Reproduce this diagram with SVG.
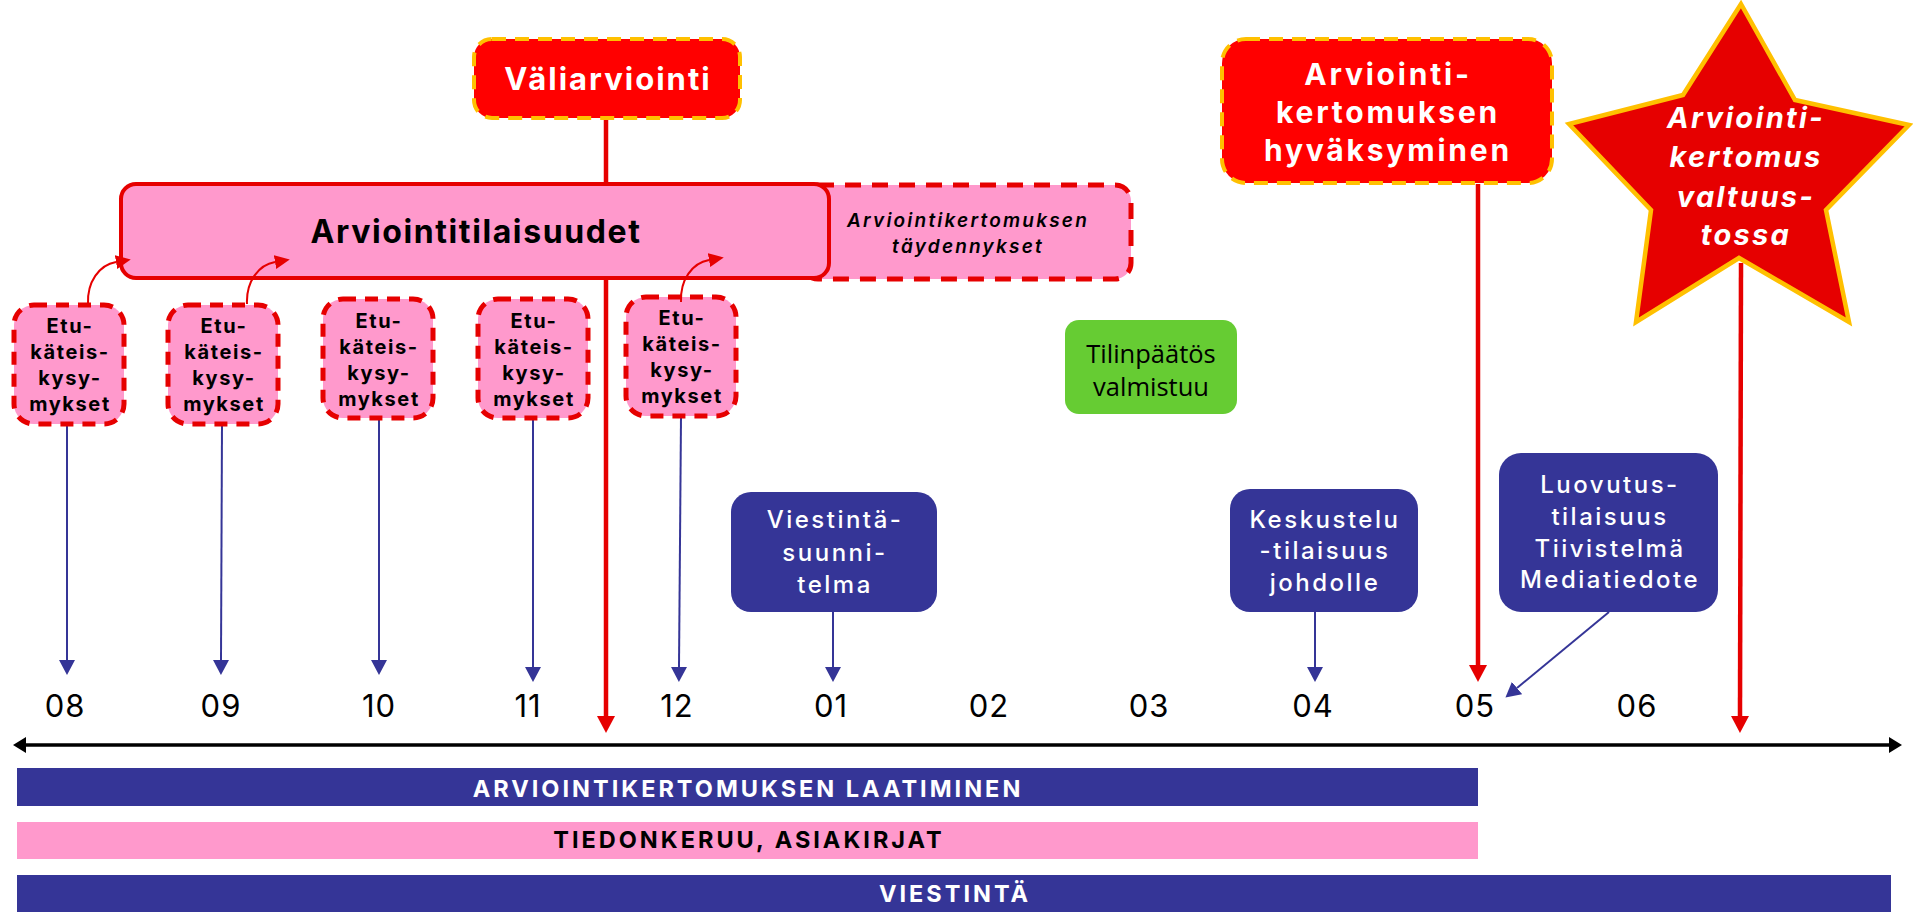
<svg xmlns="http://www.w3.org/2000/svg" width="1913" height="912" viewBox="0 0 1913 912">
<style>
  .t { font-family: Inter, "Noto Sans", sans-serif; }
  .etu { fill: #FF99CC; stroke: #E60000; stroke-width: 5; stroke-dasharray: 13 9; }
  .etut { font-family: Inter, "Noto Sans", sans-serif; font-weight: 700; font-size: 20px; letter-spacing: 1.6px; fill: #000; text-anchor: middle; }
  .redbox { fill: #FF0000; stroke: #FFC000; stroke-width: 4; stroke-dasharray: 14 9; }
  .whiteb { font-family: Inter, "Noto Sans", sans-serif; font-weight: 700; fill: #fff; text-anchor: middle; }
  .bar { font-family: Inter, "Noto Sans", sans-serif; font-weight: 700; font-size: 23.5px; letter-spacing: 3px; text-anchor: middle; }
  .bluebox { fill: #353597; }
  .bluet { font-family: Inter, "Noto Sans", sans-serif; font-weight: 500; font-size: 24px; letter-spacing: 2.5px; fill: #fff; text-anchor: middle; }
  .month { font-family: Inter, "Noto Sans", sans-serif; font-weight: 400; font-size: 31px; letter-spacing: 1px; fill: #000; text-anchor: middle; }
  .bl { stroke: #353597; stroke-width: 2; fill: none; }
  .rl { stroke: #E60000; stroke-width: 4.5; fill: none; }
  .rc { stroke: #E60000; stroke-width: 2; fill: none; }
</style>
<defs>
  <marker id="hb" markerUnits="userSpaceOnUse" markerWidth="16" markerHeight="16" viewBox="0 0 16 16" refX="0" refY="8" orient="auto">
    <path d="M0,0 L15,8 L0,16 z" fill="#353597"/>
  </marker>
  <marker id="hr" markerUnits="userSpaceOnUse" markerWidth="18" markerHeight="18" viewBox="0 0 18 18" refX="0" refY="9" orient="auto">
    <path d="M0,0 L17,9 L0,18 z" fill="#E60000"/>
  </marker>
  <marker id="hrs" markerUnits="userSpaceOnUse" markerWidth="15" markerHeight="14" viewBox="0 0 15 14" refX="0" refY="7" orient="auto">
    <path d="M0,0 L15,7 L0,14 z" fill="#E60000"/>
  </marker>
  <marker id="hk" markerUnits="userSpaceOnUse" markerWidth="14" markerHeight="16" viewBox="0 0 14 16" refX="0" refY="8" orient="auto-start-reverse">
    <path d="M0,0 L13,8 L0,16 z" fill="#000"/>
  </marker>
</defs>

<!-- connectors -->
<g id="connectors">
  <line class="rl" x1="606" y1="118" x2="606" y2="716" marker-end="url(#hr)"/>
  <line class="rl" x1="1478" y1="184" x2="1478" y2="665" marker-end="url(#hr)"/>
  <line class="bl" x1="67" y1="424" x2="67" y2="660" marker-end="url(#hb)"/>
  <line class="bl" x1="222" y1="424" x2="221" y2="660" marker-end="url(#hb)"/>
  <line class="bl" x1="379" y1="418" x2="379" y2="660" marker-end="url(#hb)"/>
  <line class="bl" x1="533" y1="419" x2="533" y2="667" marker-end="url(#hb)"/>
  <line class="bl" x1="681" y1="417" x2="679" y2="667" marker-end="url(#hb)"/>
  <line class="bl" x1="833" y1="612" x2="833" y2="667" marker-end="url(#hb)"/>
  <line class="bl" x1="1315" y1="612" x2="1315" y2="667" marker-end="url(#hb)"/>
  <line class="bl" x1="1609" y1="612" x2="1517" y2="688" marker-end="url(#hb)"/>
  <line x1="26" y1="745" x2="1889" y2="745" stroke="#000" stroke-width="3.5" marker-start="url(#hk)" marker-end="url(#hk)"/>
</g>

<!-- bars -->
<g id="bar-laatiminen">
  <rect x="17" y="768" width="1461" height="38" fill="#353597"/>
  <text x="748" y="797" class="bar" fill="#fff">ARVIOINTIKERTOMUKSEN LAATIMINEN</text>
</g>
<g id="bar-tiedonkeruu">
  <rect x="17" y="822" width="1461" height="37" fill="#FF99CC"/>
  <text x="749" y="848" class="bar" fill="#000">TIEDONKERUU, ASIAKIRJAT</text>
</g>
<g id="bar-viestinta">
  <rect x="17" y="875" width="1874" height="37" fill="#353597"/>
  <text x="955" y="902" class="bar" fill="#fff">VIESTINTÄ</text>
</g>

<!-- months -->
<g id="months">
  <text class="month" x="65" y="717">08</text>
  <text class="month" x="221" y="717">09</text>
  <text class="month" x="379" y="717">10</text>
  <text class="month" x="528" y="717">11</text>
  <text class="month" x="677" y="717">12</text>
  <text class="month" x="831" y="717">01</text>
  <text class="month" x="989" y="717">02</text>
  <text class="month" x="1149" y="717">03</text>
  <text class="month" x="1313" y="717">04</text>
  <text class="month" x="1475" y="717">05</text>
  <text class="month" x="1637" y="717">06</text>
</g>

<!-- täydennykset -->
<g id="taydennykset">
  <rect x="802" y="185" width="329" height="94" rx="16" fill="#FF99CC" stroke="#E60000" stroke-width="5" stroke-dasharray="16 11"/>
  <text x="968" y="227" class="t" font-style="italic" font-weight="600" font-size="19" letter-spacing="2.2" text-anchor="middle">Arviointikertomuksen</text>
  <text x="968" y="253" class="t" font-style="italic" font-weight="600" font-size="19" letter-spacing="2.2" text-anchor="middle">täydennykset</text>
</g>

<!-- Arviointitilaisuudet -->
<g id="arviointitilaisuudet">
  <rect x="121" y="184" width="708" height="94" rx="15" fill="#FF99CC" stroke="#E60000" stroke-width="4"/>
  <text x="476" y="243" class="t" font-weight="700" font-size="32" letter-spacing="1.6" text-anchor="middle">Arviointitilaisuudet</text>
</g>

<!-- Väliarviointi -->
<g id="valiarviointi">
  <rect x="474" y="39" width="266" height="79" rx="18" class="redbox"/>
  <text x="608" y="90" class="whiteb" font-size="31" letter-spacing="2">Väliarviointi</text>
</g>

<!-- Etukäteiskysymykset -->
<g id="etu1">
  <rect x="14" y="305" width="110" height="119" rx="20" class="etu"/>
  <text class="etut"><tspan x="70" y="333">Etu-</tspan><tspan x="70" y="359">käteis-</tspan><tspan x="70" y="385">kysy-</tspan><tspan x="70" y="411">mykset</tspan></text>
</g>
<g id="etu2">
  <rect x="168" y="305" width="110" height="119" rx="20" class="etu"/>
  <text class="etut"><tspan x="224" y="333">Etu-</tspan><tspan x="224" y="359">käteis-</tspan><tspan x="224" y="385">kysy-</tspan><tspan x="224" y="411">mykset</tspan></text>
</g>
<g id="etu3">
  <rect x="323" y="299" width="110" height="119" rx="20" class="etu"/>
  <text class="etut"><tspan x="379" y="328">Etu-</tspan><tspan x="379" y="354">käteis-</tspan><tspan x="379" y="380">kysy-</tspan><tspan x="379" y="406">mykset</tspan></text>
</g>
<g id="etu4">
  <rect x="478" y="299" width="110" height="119" rx="20" class="etu"/>
  <text class="etut"><tspan x="534" y="328">Etu-</tspan><tspan x="534" y="354">käteis-</tspan><tspan x="534" y="380">kysy-</tspan><tspan x="534" y="406">mykset</tspan></text>
</g>
<g id="etu5">
  <rect x="626" y="297" width="110" height="119" rx="20" class="etu"/>
  <text class="etut"><tspan x="682" y="325">Etu-</tspan><tspan x="682" y="351">käteis-</tspan><tspan x="682" y="377">kysy-</tspan><tspan x="682" y="403">mykset</tspan></text>
</g>

<!-- curved arrows to Arviointitilaisuudet -->
<g id="curved-connectors">
  <path class="rc" d="M88,304 C87,282 99,265 116,262" marker-end="url(#hrs)"/>
  <path class="rc" d="M247,304 C246,282 258,265 275,262" marker-end="url(#hrs)"/>
  <path class="rc" d="M681,302 C680,280 692,263 709,260" marker-end="url(#hrs)"/>
</g>

<!-- Tilinpäätös -->
<g id="tilinpaatos">
  <rect x="1065" y="320" width="172" height="94" rx="14" fill="#66CC33"/>
  <text x="1151" y="363" font-family="'Open Sans', 'Noto Sans', sans-serif" font-size="25.5" fill="#000" text-anchor="middle">Tilinpäätös</text>
  <text x="1151" y="396" font-family="'Open Sans', 'Noto Sans', sans-serif" font-size="25.5" fill="#000" text-anchor="middle">valmistuu</text>
</g>

<!-- blue boxes -->
<g id="viestintasuunnitelma">
  <rect x="731" y="492" width="206" height="120" rx="20" class="bluebox"/>
  <text class="bluet"><tspan x="835" y="528">Viestintä-</tspan><tspan x="835" y="561">suunni-</tspan><tspan x="835" y="593">telma</tspan></text>
</g>
<g id="keskustelu">
  <rect x="1230" y="489" width="188" height="123" rx="20" class="bluebox"/>
  <text class="bluet"><tspan x="1325" y="528">Keskustelu</tspan><tspan x="1325" y="559">-tilaisuus</tspan><tspan x="1325" y="591">johdolle</tspan></text>
</g>
<g id="luovutus">
  <rect x="1499" y="453" width="219" height="159" rx="22" class="bluebox"/>
  <text class="bluet"><tspan x="1610" y="493">Luovutus-</tspan><tspan x="1610" y="525">tilaisuus</tspan><tspan x="1610" y="557">Tiivistelmä</tspan><tspan x="1610" y="588">Mediatiedote</tspan></text>
</g>

<!-- hyväksyminen -->
<g id="hyvaksyminen">
  <rect x="1222" y="39" width="330" height="144" rx="24" class="redbox"/>
  <text class="whiteb" font-size="30" letter-spacing="2.8"><tspan x="1388" y="85">Arviointi-</tspan><tspan x="1388" y="123">kertomuksen</tspan><tspan x="1388" y="161">hyväksyminen</tspan></text>
</g>

<!-- star -->
<g id="valtuusto">
  <path d="M1741,4 L1795,100 L1909,125 L1826,210 L1849,322 L1739,258 L1636,322 L1651,210 L1569,124 L1683,95 Z" fill="#E60000" stroke="#FFC000" stroke-width="4.5" stroke-linejoin="miter"/>
  <text class="whiteb" font-style="italic" font-size="29" letter-spacing="2.3"><tspan x="1746" y="128">Arviointi-</tspan><tspan x="1746" y="167">kertomus</tspan><tspan x="1746" y="207">valtuus-</tspan><tspan x="1746" y="245">tossa</tspan></text>
  <line class="rl" x1="1741" y1="263" x2="1740" y2="716" marker-end="url(#hr)"/>
</g>
</svg>
